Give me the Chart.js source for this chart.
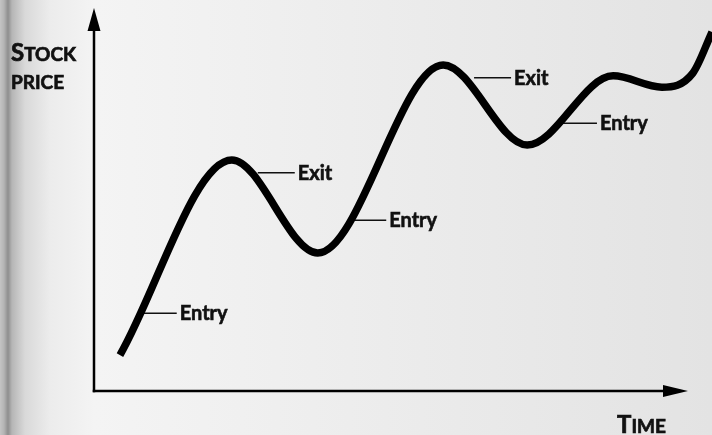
<!DOCTYPE html>
<html>
<head>
<meta charset="utf-8">
<script src="https://cdn.jsdelivr.net/npm/chart.js@4.4.1/dist/chart.umd.min.js"></script>
<style>
html,body{margin:0;padding:0;background:#e6e6e6;}
#wrap{width:712px;height:435px;}
</style>
</head>
<body>
<div id="wrap"><canvas id="c" width="712" height="435"></canvas></div>
<script>
// Curve: start, peaks, troughs, end (time 0..100, price 0..100)
const timeValues  = [4.2, 22.3, 36.2, 56.5, 70.1, 84.0, 91.9, 96.9, 100];
const priceValues = [9.2, 59.1, 35.3, 83.4, 62.9, 80.6, 77.7, 81.3, 91.8];

// Entry / exit call-outs
const signalLabels = ['Entry', 'Exit', 'Entry', 'Exit', 'Entry'];
const signalTime   = [7.4, 26.5, 41.3, 61.5, 75.4];
const signalPrice  = [19.9, 55.8, 43.7, 80.1, 68.5];

// Axis titles (small caps: first letter, rest)
const yTitle = [['S', 'TOCK'], ['', 'PRICE']];
const xTitle = [['T', 'IME']];

const points = timeValues.map((t, i) => ({x: t, y: priceValues[i]}));

const FONT = 'Lato, "Open Sans", sans-serif';

const bgPlugin = {
  id: 'bg',
  beforeDraw(chart) {
    const ctx = chart.ctx, w = chart.width, h = chart.height;
    const g = ctx.createLinearGradient(0, 0, w, 0);
    g.addColorStop(0, '#c4c4c4');
    g.addColorStop(4 / w, '#b4b4b4');
    g.addColorStop(8 / w, '#8e8e8e');
    g.addColorStop(12 / w, '#b6b6b6');
    g.addColorStop(25 / w, '#d9d9d9');
    g.addColorStop(50 / w, '#ececec');
    g.addColorStop(95 / w, '#f4f4f4');
    g.addColorStop(1, '#e3e3e3');
    ctx.save();
    ctx.fillStyle = g;
    ctx.fillRect(0, 0, w, h);
    ctx.restore();
  }
};

function boldText(ctx, s, x, y) {
  ctx.fillText(s, x, y);
  ctx.strokeText(s, x, y);
}

function drawSmallCaps(ctx, parts, x, y, big, small) {
  let cx = x;
  ctx.font = '700 ' + big + 'px ' + FONT;
  if (parts[0]) boldText(ctx, parts[0], cx, y);
  cx += ctx.measureText(parts[0]).width;
  ctx.font = '700 ' + small + 'px ' + FONT;
  boldText(ctx, parts[1], cx, y);
}

const axesPlugin = {
  id: 'arrowAxes',
  beforeDatasetsDraw(chart) {
    const ctx = chart.ctx;
    const xs = chart.scales.x, ys = chart.scales.y;
    const x0 = xs.getPixelForValue(0), y0 = ys.getPixelForValue(0);
    ctx.save();
    ctx.strokeStyle = '#000';
    ctx.fillStyle = '#000';
    ctx.lineWidth = 2.5;
    // y axis
    ctx.beginPath();
    ctx.moveTo(x0, y0 + 1.25);
    ctx.lineTo(x0, 30);
    ctx.stroke();
    ctx.beginPath();
    ctx.moveTo(x0, 8);
    ctx.lineTo(x0 + 6.5, 31);
    ctx.lineTo(x0 - 6.5, 31);
    ctx.closePath();
    ctx.fill();
    // x axis
    ctx.beginPath();
    ctx.moveTo(x0 - 1.25, y0);
    ctx.lineTo(665, y0);
    ctx.stroke();
    ctx.beginPath();
    ctx.moveTo(688, y0);
    ctx.lineTo(663, y0 - 6);
    ctx.lineTo(663, y0 + 6);
    ctx.closePath();
    ctx.fill();

    // titles
    ctx.fillStyle = '#111';
    ctx.strokeStyle = '#111';
    ctx.lineWidth = 0.7;
    ctx.textBaseline = 'alphabetic';
    drawSmallCaps(ctx, yTitle[0], 11, 61, 24, 19);
    drawSmallCaps(ctx, yTitle[1], 11, 89, 24, 19);
    drawSmallCaps(ctx, xTitle[0], 617, 433, 24, 19);

    // signal call-outs
    signalLabels.forEach((lab, i) => {
      const px = xs.getPixelForValue(signalTime[i]);
      const py = ys.getPixelForValue(signalPrice[i]);
      ctx.lineWidth = 1.5;
      ctx.beginPath();
      ctx.moveTo(px, py);
      ctx.lineTo(px + 37, py);
      ctx.stroke();
      ctx.font = '700 20px ' + FONT;
      ctx.lineWidth = 0.6;
      boldText(ctx, lab, px + 40, py + 7);
    });
    ctx.restore();
  }
};

new Chart(document.getElementById('c'), {
  type: 'line',
  data: {
    datasets: [{
      data: points,
      borderColor: '#000',
      borderWidth: 7.5,
      pointRadius: 0,
      fill: false,
      clip: false,
      cubicInterpolationMode: 'monotone',
      borderCapStyle: 'butt',
      borderJoinStyle: 'round'
    }]
  },
  options: {
    responsive: false,
    animation: false,
    layout: {padding: {left: 94, right: 0, top: 0, bottom: 44}},
    plugins: {legend: {display: false}, tooltip: {enabled: false}},
    scales: {
      x: {type: 'linear', min: 0, max: 100, display: false},
      y: {type: 'linear', min: 0, max: 100, display: false}
    }
  },
  plugins: [bgPlugin, axesPlugin]
});
</script>
</body>
</html>
